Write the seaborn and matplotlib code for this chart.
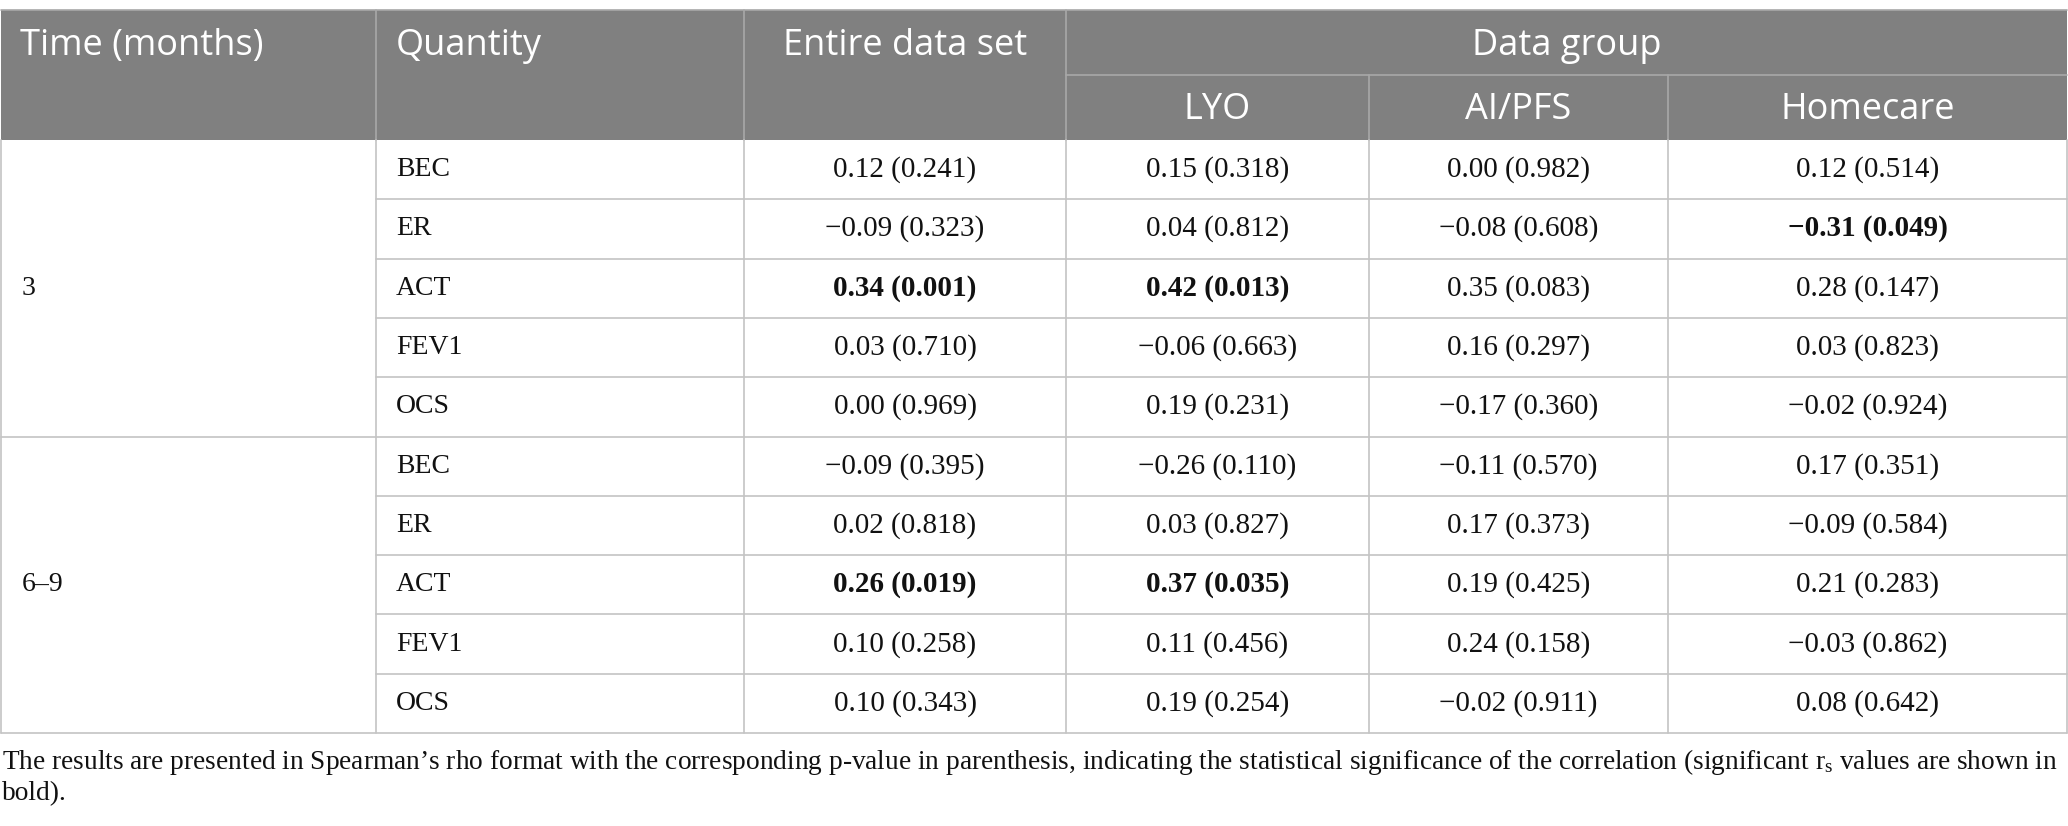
import matplotlib
matplotlib.use("Agg")
import matplotlib.pyplot as plt
import seaborn as sns

# table content
times = ["3", "6\u20139"]
quantities = ["BEC", "ER", "ACT", "FEV1", "OCS"]
group_cols = ["LYO", "AI/PFS", "Homecare"]

entire_rho = [0.12, -0.09, 0.34, 0.03, 0.00, -0.09, 0.02, 0.26, 0.10, 0.10]
entire_p = [0.241, 0.323, 0.001, 0.710, 0.969, 0.395, 0.818, 0.019, 0.258, 0.343]
lyo_rho = [0.15, 0.04, 0.42, -0.06, 0.19, -0.26, 0.03, 0.37, 0.11, 0.19]
lyo_p = [0.318, 0.812, 0.013, 0.663, 0.231, 0.110, 0.827, 0.035, 0.456, 0.254]
aipfs_rho = [0.00, -0.08, 0.35, 0.16, -0.17, -0.11, 0.17, 0.19, 0.24, -0.02]
aipfs_p = [0.982, 0.608, 0.083, 0.297, 0.360, 0.570, 0.373, 0.425, 0.158, 0.911]
home_rho = [0.12, -0.31, 0.28, 0.03, -0.02, 0.17, -0.09, 0.21, -0.03, 0.08]
home_p = [0.514, 0.049, 0.147, 0.823, 0.924, 0.351, 0.584, 0.283, 0.862, 0.642]

footnote_1 = ("The results are presented in Spearman\u2019s rho format with the corresponding "
              "p-value in parenthesis, indicating the statistical significance of the correlation "
              "(significant $\\mathregular{r_s}$ values are shown in")
footnote_2 = "bold)."

sns.set_theme(style="white")
plt.rcParams["mathtext.fontset"] = "custom"
plt.rcParams["mathtext.rm"] = "Liberation Serif"

W, H = 2068, 826
fig = plt.figure(figsize=(W / 100, H / 100), dpi=100)
ax = fig.add_axes([0, 0, 1, 1])
ax.set_xlim(0, W)
ax.set_ylim(H, 0)
ax.axis("off")

# layout in pixels
xs = [1, 376, 744, 1066, 1369, 1668, 2067]
y_top, y_mid, y_head = 10, 75, 140
row_h = 59.3
n_rows = len(quantities) * len(times)
y_bottom = y_head + n_rows * row_h

head_bg = "#808080"
head_line = "#a8a8a8"
body_line = "#c4c4c4"
serif = "Liberation Serif"
sans = "Open Sans"

ax.add_patch(plt.Rectangle((xs[0], y_top), xs[-1] - xs[0], y_head - y_top,
                           facecolor=head_bg, edgecolor="none"))

# header lines
for x in xs[1:4]:
    ax.plot([x, x], [y_top, y_head], color=head_line, lw=1.2)
for x in xs[4:6]:
    ax.plot([x, x], [y_mid, y_head], color=head_line, lw=1.2)
ax.plot([xs[3], xs[-1]], [y_mid, y_mid], color=head_line, lw=1.2)

# header text
hs = 26
ax.text(20, 46, "Time (months)", color="white", fontsize=hs, family=sans, va="center")
ax.text(396, 46, "Quantity", color="white", fontsize=hs, family=sans, va="center")
ax.text((xs[2] + xs[3]) / 2, 46, "Entire data set", color="white", fontsize=hs,
        family=sans, va="center", ha="center")
ax.text((xs[3] + xs[-1]) / 2, 46, "Data group", color="white", fontsize=hs,
        family=sans, va="center", ha="center")
for i, name in enumerate(group_cols):
    ax.text((xs[3 + i] + xs[4 + i]) / 2, 110, name, color="white", fontsize=hs,
            family=sans, va="center", ha="center")

# body grid
for x in xs:
    ax.plot([x, x], [y_head, y_bottom], color=body_line, lw=1.2)
for r in range(1, n_rows):
    y = y_head + r * row_h
    x0 = xs[0] if r % len(quantities) == 0 else xs[1]
    ax.plot([x0, xs[-1]], [y, y], color=body_line, lw=1.2)
ax.plot([xs[0], xs[-1]], [y_bottom, y_bottom], color=body_line, lw=1.2)
ax.plot([xs[0], xs[-1]], [y_top, y_top], color=head_line, lw=1.2)


def fmt(rho, p):
    return f"{rho:.2f} ({p:.3f})".replace("-", "\u2212")


bs = 21
ls = 20
columns = [(entire_rho, entire_p), (lyo_rho, lyo_p), (aipfs_rho, aipfs_p), (home_rho, home_p)]
for g, t in enumerate(times):
    yc = y_head + (g + 0.5) * len(quantities) * row_h
    ax.text(22, yc, t, fontsize=ls, family=serif, va="center", color="#111111")
    for q, name in enumerate(quantities):
        r = g * len(quantities) + q
        y = y_head + (r + 0.5) * row_h
        ax.text(396, y, name, fontsize=ls, family=serif, va="center", color="#111111")
        for c, (rho, p) in enumerate(columns):
            ax.text((xs[2 + c] + xs[3 + c]) / 2, y, fmt(rho[r], p[r]), fontsize=bs,
                    family=serif, va="center", ha="center", color="#111111",
                    fontweight="bold" if p[r] < 0.05 else "normal")

ax.text(2, 762, footnote_1, fontsize=19.7, family=serif, va="center", color="#111111")
ax.text(2, 794, footnote_2, fontsize=19.7, family=serif, va="center", color="#111111")

fig.savefig("out.png", dpi=100)
